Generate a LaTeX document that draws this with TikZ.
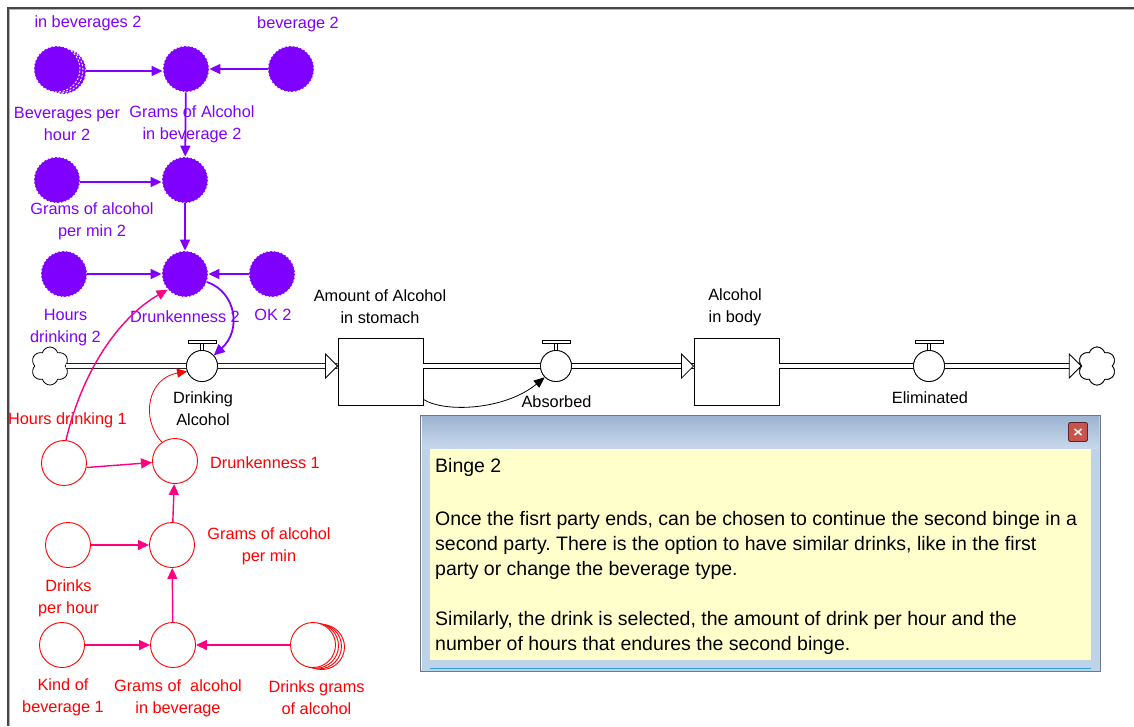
\documentclass[tikz,border=0pt]{standalone}
\usepackage{fontspec}
\setmainfont{Liberation Sans}
\usetikzlibrary{arrows.meta,shapes.symbols,calc}
\frenchspacing

\definecolor{vio}{RGB}{128,0,255}
\definecolor{redc}{RGB}{255,0,0}
\definecolor{pinkc}{RGB}{255,0,128}
\definecolor{framegrey}{RGB}{70,70,70}
\definecolor{winframe}{RGB}{190,210,234}
\definecolor{winborder}{RGB}{110,120,135}
\definecolor{titletop}{RGB}{157,180,210}
\definecolor{titlebot}{RGB}{200,216,236}
\definecolor{noteyellow}{RGB}{255,255,204}
\definecolor{tealline}{RGB}{50,160,200}
\definecolor{btnred}{RGB}{200,85,75}
\definecolor{btndark}{RGB}{95,35,35}

% valve handle on top of a flow valve
\newcommand\valvetop[1]{%
  \draw[line width=0.8pt, fill=white] ($(#1.north)+(-1.8,0.5)$) rectangle ($(#1.north)+(1.8,-6.5)$);
  \draw[line width=0.8pt, fill=white] ($(#1.north)+(-14,-6.5)$) rectangle ($(#1.north)+(14,-9.5)$);}
% open head of a flow pipe, tip at the given coordinate
\newcommand\pipehead[1]{%
  \draw[line width=0.8pt, fill=white, line join=miter] (#1) -- ++(-12,-12) -- ++(0,24) -- cycle;}

\begin{document}
\begin{tikzpicture}[x=1pt,y=-1pt,
  lbl/.style={font=\fontsize{16.3}{22}\selectfont, align=center, inner sep=0pt},
  plbl/.style={lbl, text=vio},
  rlbl/.style={lbl, text=redc},
  klbl/.style={lbl, text=black},
  pvar/.style={circle, minimum size=46pt, inner sep=0pt, fill=vio, draw=white,
               line width=0.9pt, dash pattern=on 2.2pt off 1.6pt},
  rvar/.style={circle, minimum size=45pt, inner sep=0pt, draw=redc, line width=0.9pt, fill=white},
  parrow/.style={draw=vio, line width=1.8pt, -{Triangle[length=11pt,width=10pt]}},
  rarrow/.style={draw=pinkc, line width=1.4pt, -{Triangle[length=11pt,width=10pt]}},
  thinred/.style={draw=redc, line width=0.8pt, -{Triangle[length=10pt,width=9pt]}},
  blink/.style={draw=black, line width=0.8pt, -{Triangle[length=11pt,width=9pt]}},
  pipe/.style={draw=black, line width=0.8pt, double=white, double distance=4.2pt},
  valve/.style={circle, minimum size=31pt, inner sep=0pt, draw, fill=white, line width=0.8pt},
  stock/.style={rectangle, draw, line width=0.9pt, fill=white, minimum width=85pt,
                minimum height=67pt, inner sep=0pt},
  sink/.style={cloud, cloud puffs=6, aspect=1, draw, fill=white, line width=0.8pt,
               minimum width=38pt, minimum height=38pt, inner sep=0pt},
  notetext/.style={font=\fontsize{19.5}{25}\selectfont, inner sep=0pt, anchor=base west}
]
\useasboundingbox (0,0) rectangle (1134,726);
\fill[white] (0,0) rectangle (1134,726);

% sketch frame
\draw[framegrey, line width=1.5pt] (8,726) -- (8,8) -- (1134,8);
\draw[gray!60, line width=0.6pt] (9.5,726) -- (9.5,9.5) -- (1134,9.5);

% ---------------- second binge (purple) ----------------
\node[pvar] (p1g2) at (63,71) {};
\node[pvar] (p1g1) at (60,70) {};
\node[pvar] (p1) at (57,69) {};
\node[pvar] (p2) at (186,69) {};
\node[pvar] (p3) at (291,69) {};
\node[pvar] (p4) at (57,180) {};
\node[pvar] (p5) at (185,180) {};
\node[pvar] (p6) at (64,274) {};
\node[pvar] (p7) at (185,274) {};
\node[pvar] (p8) at (272,274) {};

\node[plbl] (lp0) at (88,23) {in beverages 2};
\node[plbl] (lp3) at (298,24) {beverage 2};
\node[plbl] (lp1) at (67,124) {Beverages per\\hour 2};
\node[plbl] (lp2) at (192,124) {Grams of Alcohol\\in beverage 2};
\node[plbl] (lp4) at (92,221) {Grams of alcohol\\per min 2};
\node[plbl] (lp6) at (65.5,328) {Hours\\drinking 2};
\node[plbl] (lp7) at (185,317) {Drunkenness 2};
\node[plbl] (lp8) at (273,315) {OK 2};

\draw[parrow] (p1g2.east |- 0,71) -- (p2.west |- 0,71);
\draw[parrow] (p3) -- (p2);
\draw[parrow] (p2) -- (p5);
\draw[parrow] (p4.east |- 0,182) -- (p5.west |- 0,182);
\draw[parrow] (p5) -- (p7);
\draw[parrow] (p6) -- (p7);
\draw[parrow] (p8) -- (p7);

% ---------------- stocks and flows ----------------
\node[sink] (c1) at (50,366) {};
\node[sink] (c2) at (1097,366) {};
\node[stock] (s1) at (380.5,371.5) {};
\node[stock] (s2) at (736.5,371.5) {};
\node[valve] (v1) at (202,366) {};
\node[valve] (v2) at (556,366) {};
\node[valve] (v3) at (929,366) {};

\coordinate (h1) at (s1.west |- v1.center);
\coordinate (h2) at (s2.west |- v2.center);
\coordinate (h3) at (c2.west |- v3.center);

\draw[pipe] (c1.east) -- (h1);
\draw[pipe] (s1.east |- v2.center) -- (h2);
\draw[pipe] (s2.east |- v3.center) -- (h3);
\pipehead{h1}
\pipehead{h2}
\pipehead{h3}
% valves and the sink cloud sit over the pipes
\node[valve] at (v1) {};
\node[valve] at (v2) {};
\node[valve] at (v3) {};
\node[sink] at (c2) {};
\valvetop{v1}
\valvetop{v2}
\valvetop{v3}

\node[klbl] (ls1) at (380,307) {Amount of Alcohol\\in stomach};
\node[klbl] (ls2) at (735,307) {Alcohol\\in body};
\node[klbl] (lv1) at (203,409) {Drinking\\Alcohol};
\node[klbl] (lv2) at (556.5,402) {Absorbed};
\node[klbl] (lv3) at (930,398) {Eliminated};

\draw[blink] (s1.south east) ++(0,-6) .. controls (445,413) and (505,410) .. (v2.225);

% ---------------- first binge (red) ----------------
\node[rvar] (r1) at (64,463) {};
\node[rvar] (r2) at (175,461) {};
\node[rvar] (r3) at (68,545) {};
\node[rvar] (r4) at (172,545) {};
\node[rvar] (r5) at (62,645) {};
\node[rvar] (r6) at (173,645) {};
\node[rvar] (r7g3) at (322,647) {};
\node[rvar] (r7g2) at (319,646.4) {};
\node[rvar] (r7g1) at (316,645.7) {};
\node[rvar] (r7) at (313,645) {};

\node[rlbl] (lr1) at (67.5,420) {Hours drinking 1};
\node[rlbl] (lr2) at (265,463) {Drunkenness 1};
\node[rlbl] (lr4) at (269,546) {Grams of alcohol\\per min};
\node[rlbl] (lr3) at (68.5,598) {Drinks\\per hour};
\node[rlbl] (lr5) at (63,697.5) {Kind of\\beverage 1};
\node[rlbl] (lr6) at (178,698) {Grams of~ alcohol\\in beverage};
\node[rlbl] (lr7) at (316.5,697.5) {Drinks grams\\of alcohol};

\draw[rarrow] (r1.east |- 0,467.5) -- (r2.west |- 0,462.5);
\draw[rarrow] (r3) -- (r4);
\draw[rarrow] (r5) -- (r6);
\draw[rarrow] (r7) -- (r6);
\draw[rarrow] (r6) -- (r4);
\draw[rarrow] (r4) -- (r2);

% links into the drinking valve and the second binge
\draw[thinred] (r2.125) .. controls (140,418) and (148,378) .. (v1.200);
\draw[rarrow] (r1.85) .. controls (82,372) and (118,318) .. (p7.222);
\draw[parrow] (p7.-20) .. controls (236,292) and (242,330) .. (v1.42);

% ---------------- note window ----------------
\draw[winborder, fill=winframe, line width=1pt] (420,415) rectangle (1100,671);
\shade[top color=titletop, bottom color=titlebot] (421.5,416.5) rectangle (1098.5,448);
\draw[white!85!winframe, line width=0.8pt] (421.5,416.5) -- (421.5,670);
\fill[noteyellow] (430,449) rectangle (1091,660);
\draw[tealline, line width=1.4pt] (430,668.5) -- (1091,668.5);
\node[draw=btndark, fill=btnred, rounded corners=2pt, minimum width=19pt, minimum height=19pt,
      line width=0.9pt, inner sep=0pt] (closebtn) at (1078,432) {};
\draw[white, line width=1.5pt] ($(closebtn.center)+(-3.5,-3)$) -- ($(closebtn.center)+(3.5,3)$);
\draw[white, line width=1.5pt] ($(closebtn.center)+(-3.5,3)$) -- ($(closebtn.center)+(3.5,-3)$);

\node[notetext] (nt0) at (435,472) {Binge 2};
\node[notetext] (nt1) at (435,525) {Once the fisrt party ends, can be chosen to continue the second binge in a};
\node[notetext] (nt2) at (435,550) {second party. There is the option to have similar drinks, like in the first};
\node[notetext] (nt3) at (435,575) {party or change the beverage type.};
\node[notetext] (nt4) at (435,625) {Similarly, the drink is selected, the amount of drink per hour and the};
\node[notetext] (nt5) at (435,650) {number of hours that endures the second binge.};
\end{tikzpicture}
\end{document}
